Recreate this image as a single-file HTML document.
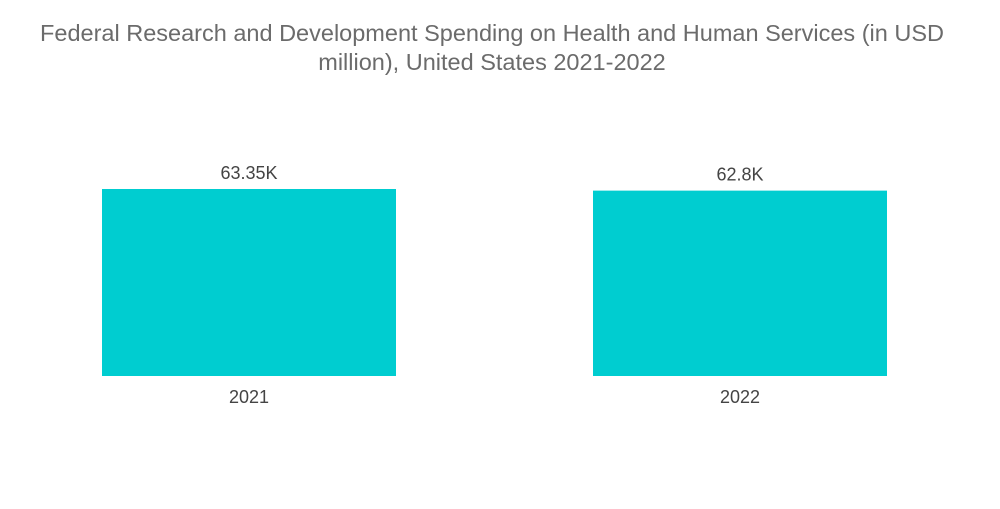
<!DOCTYPE html>
<html>
<head>
<meta charset="utf-8">
<style>
  html,body{margin:0;padding:0;background:#fff;}
  body{width:1000px;height:504px;overflow:hidden;font-family:"Liberation Sans",sans-serif;}
  svg text{font-family:"Liberation Sans",sans-serif;}
</style>
</head>
<body>
<svg id="chart" width="1000" height="504" viewBox="0 0 1000 504">
  <text x="492" y="41" text-anchor="middle" font-size="23.5" fill="#6b6b6b">Federal Research and Development Spending on Health and Human Services (in USD</text>
  <text x="492" y="70" text-anchor="middle" font-size="23.5" fill="#6b6b6b">million), United States 2021-2022</text>
  <g id="bars"></g>
</svg>
<script>
const categories = ["2021", "2022"];
const values = [63.35, 62.8];
const valueLabels = ["63.35K", "62.8K"];

const baseY = 376, plotH = 187, maxV = 63.35;
const x0 = 102, slot = 491, barW = 294;
function yScale(v){ return baseY - v / maxV * plotH; }
function xScale(i){ return x0 + i * slot; }

const g = document.getElementById('bars');
const NS = "http://www.w3.org/2000/svg";
categories.forEach((c, i) => {
  const x = xScale(i), y = yScale(values[i]);
  const r = document.createElementNS(NS, 'rect');
  r.setAttribute('x', x); r.setAttribute('y', y);
  r.setAttribute('width', barW); r.setAttribute('height', baseY - y);
  r.setAttribute('fill', '#00CDD0');
  
  
  g.appendChild(r);

  const vt = document.createElementNS(NS, 'text');
  vt.setAttribute('x', x + barW / 2); vt.setAttribute('y', y - 10);
  vt.setAttribute('text-anchor', 'middle'); vt.setAttribute('font-size', '18');
  vt.setAttribute('fill', '#444');
  vt.textContent = valueLabels[i];
  
  
  g.appendChild(vt);

  const ct = document.createElementNS(NS, 'text');
  ct.setAttribute('x', x + barW / 2); ct.setAttribute('y', 403);
  ct.setAttribute('text-anchor', 'middle'); ct.setAttribute('font-size', '18');
  ct.setAttribute('fill', '#444');
  ct.textContent = c;
  
  
  g.appendChild(ct);
});
</script>
</body>
</html>
